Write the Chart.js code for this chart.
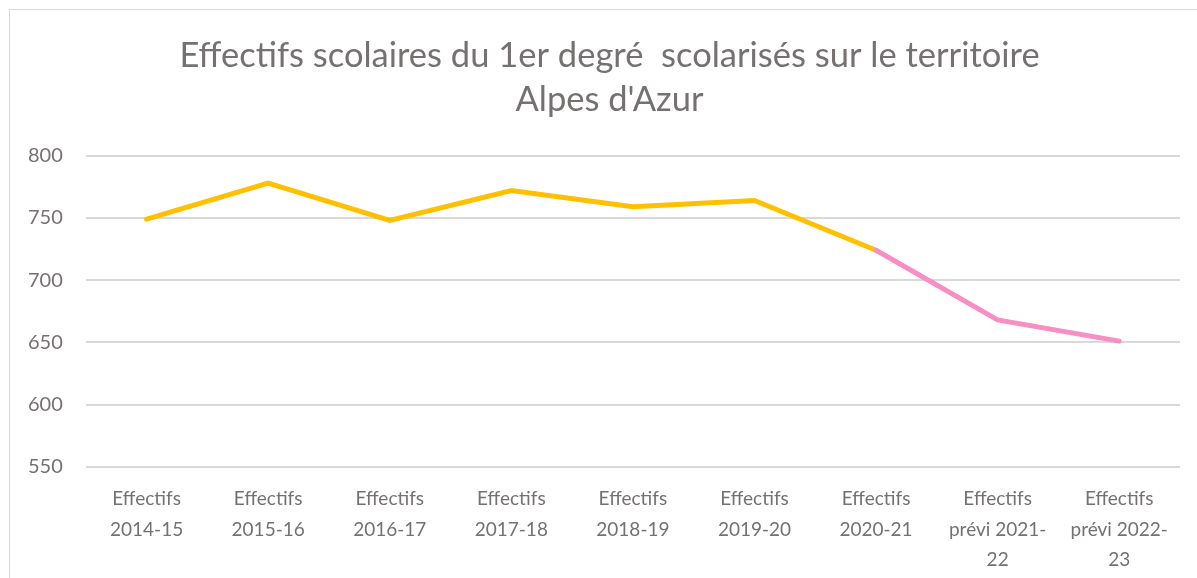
<!DOCTYPE html>
<html>
<head>
<meta charset="utf-8">
<script src="https://cdn.jsdelivr.net/npm/chart.js@4"></script>
<style>
  body { margin: 0; background: #fff; overflow: hidden; }
  #frame { position: absolute; left: 9px; top: 9px; width: 1200px; height: 600px; border: 1px solid #d9d9d9; }
  #chart { position: absolute; left: 0; top: 0; }
</style>
</head>
<body>
<div id="frame"></div>
<canvas id="chart" width="1197" height="578"></canvas>
<script>
const categories = [
    ['Effectifs', '2014-15'],
    ['Effectifs', '2015-16'],
    ['Effectifs', '2016-17'],
    ['Effectifs', '2017-18'],
    ['Effectifs', '2018-19'],
    ['Effectifs', '2019-20'],
    ['Effectifs', '2020-21'],
    ['Effectifs', 'prévi 2021-', '22'],
    ['Effectifs', 'prévi 2022-', '23']
];
const effectifs = [749, 778, 748, 772, 759, 764, 724, 668, 651];
const firstForecastSegment = 6; // segments from 2020-21 onward are forecasts

const gold = '#FFC000';
const pink = '#F78FC5';
const grey = '#767171';

// the original title sits a bit right of the canvas centre
const shiftTitle = {
    id: 'shiftTitle',
    afterLayout(chart) {
        if (chart.titleBlock) {
            chart.titleBlock.left += 17;
            chart.titleBlock.right += 17;
        }
    }
};

const ctx = document.getElementById('chart').getContext('2d');
const chart = new Chart(ctx, {
    type: 'line',
    data: {
        labels: categories,
        datasets: [{
            label: 'Effectifs',
            data: effectifs,
            borderColor: gold,
            borderWidth: 5,
            pointRadius: 0,
            tension: 0,
            borderCapStyle: 'round',
            segment: {
                borderColor: c => c.p0DataIndex >= firstForecastSegment ? pink : gold
            }
        }]
    },
    options: {
        responsive: false,
        animation: false,
        layout: { padding: { left: 5, right: 17, top: 33, bottom: -14 } },
        plugins: {
            legend: { display: false },
            tooltip: { enabled: false },
            title: {
                display: true,
                text: ['Effectifs scolaires du 1er degré  scolarisés sur le territoire', "Alpes d'Azur"],
                color: grey,
                font: { family: 'Lato', size: 34.5, weight: 'normal', lineHeight: 1.3 },
                padding: { top: 0, bottom: 33 }
            }
        },
        scales: {
            x: {
                offset: true,
                grid: { display: false, drawTicks: false },
                border: { display: false },
                ticks: {
                    color: grey,
                    font: { family: 'Lato', size: 19, lineHeight: 1.6 },
                    maxRotation: 0,
                    autoSkip: false,
                    padding: 17
                }
            },
            y: {
                min: 550,
                max: 800,
                grid: { color: '#d9d9d9', lineWidth: 2, drawTicks: false },
                border: { display: false },
                ticks: {
                    stepSize: 50,
                    color: grey,
                    font: { family: 'Lato', size: 20 },
                    padding: 23
                }
            }
        }
    },
    plugins: [shiftTitle]
});
</script>
</body>
</html>
